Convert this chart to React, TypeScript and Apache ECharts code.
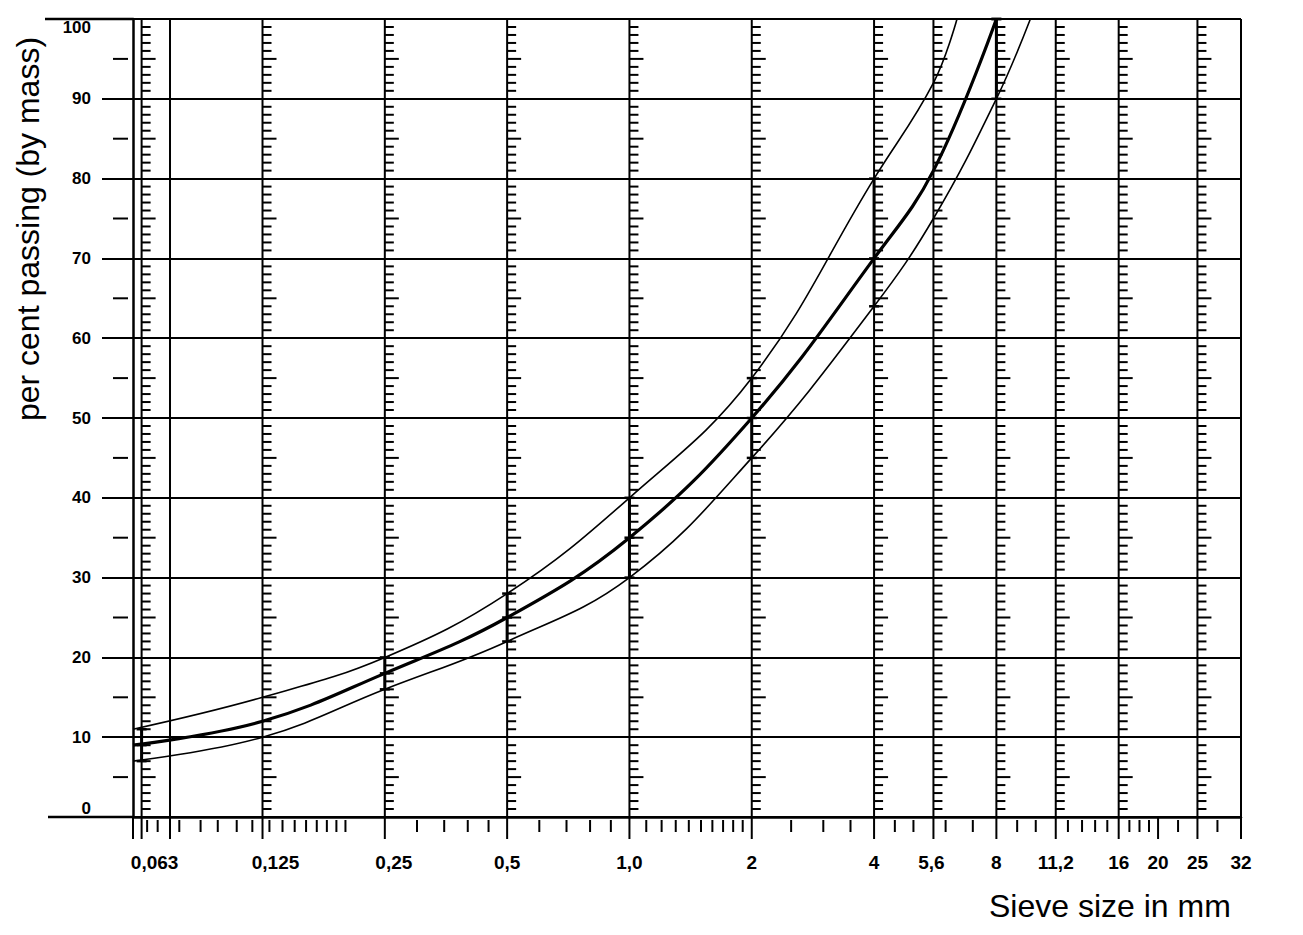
import { useEffect, useRef } from "react";
import * as echarts from "echarts";

// ---- data ----
const xLabelTexts = ["0,063", "0,125", "0,25", "0,5", "1,0", "2", "4", "5,6", "8", "11,2", "16", "20", "25", "32"];
const xLabelSizes = [0.063, 0.125, 0.25, 0.5, 1, 2, 4, 5.6, 8, 11.2, 16, 20, 25, 32];
const rulerSizes = [0.063, 0.125, 0.25, 0.5, 1, 2, 4, 5.6, 8, 11.2, 16, 25];
const plainLineSizes = [0.074, 32];
const majorTickSizes = [0.06, 0.063, 0.074, 0.125, 0.25, 0.5, 1, 2, 4, 5.6, 8, 11.2, 16, 20, 25, 32];
const minorTickSizes = [
  0.065, 0.069, 0.078, 0.088, 0.097, 0.108, 0.118,
  0.13, 0.14, 0.15, 0.16, 0.17, 0.18, 0.19, 0.2,
  0.3, 0.35, 0.4, 0.45,
  0.6, 0.7, 0.8, 0.9,
  1.1, 1.2, 1.3, 1.4, 1.5, 1.6, 1.7, 1.8, 1.9,
  2.5, 3, 3.5,
  4.5, 5, 6, 7,
  9, 10, 12, 13, 14, 15,
  17, 18, 19, 22.4, 28,
];
const yHalfTicks = [5, 15, 25, 35, 45, 55, 65, 75, 85, 95];

const upperLimit = [
  [0.06, 11], [0.125, 15], [0.25, 20], [0.5, 28], [1, 40], [2, 55], [4, 80], [5.6, 92], [6.4, 100],
];
const gradingCurve = [
  [0.06, 9], [0.125, 12], [0.25, 18], [0.5, 25], [1, 35], [2, 50], [4, 70], [5.6, 81], [8, 100],
];
const lowerLimit = [
  [0.06, 7], [0.125, 10], [0.25, 16], [0.5, 22], [1, 30], [2, 45], [4, 64], [5.6, 75], [8, 90], [9.7, 100],
];
// sieve, lower, middle, upper
const rangeBars = [
  [0.063, 7, 9, 11],
  [0.25, 16, 18, 20],
  [0.5, 22, 25, 28],
  [1, 30, 35, 40],
  [2, 45, 50, 55],
  [4, 64, 70, 80],
  [8, 90, 100, 100],
];

const X_MIN = 0.06;
const X_MAX = 32;
const LABEL_FONT = 'bold 19px "Liberation Sans", Arial, sans-serif';
const labelShift: Record<string, number> = { "0,063": 13, "0,125": 13, "0,25": 9, "5,6": -2 };

function ln(x1: number, y1: number, x2: number, y2: number, w = 2) {
  return { type: "line", shape: { x1, y1, x2, y2 }, style: { stroke: "#000", lineWidth: w } };
}

export default function App() {
  const ref = useRef<HTMLDivElement>(null);
  useEffect(() => {
    if (!ref.current) return;
    const chart = echarts.init(ref.current, null, { renderer: "svg" });
    const curveStyle = { smooth: 0.4, showSymbol: false, symbol: "none" };
    const option: any = {
      animation: false,
      backgroundColor: "#fff",
      grid: { left: 133, right: 62, top: 19, bottom: 118 },
      xAxis: {
        type: "log",
        logBase: 2,
        min: X_MIN,
        max: X_MAX,
        axisLine: { show: true, lineStyle: { color: "#000", width: 2.5 } },
        axisTick: { show: false },
        axisLabel: { show: false },
        splitLine: { show: false },
        minorTick: { show: false },
      },
      yAxis: {
        type: "value",
        min: 0,
        max: 100,
        interval: 10,
        axisLine: { show: true, lineStyle: { color: "#000", width: 2.5 } },
        axisTick: { show: true, length: 31, lineStyle: { color: "#000", width: 2 } },
        axisLabel: {
          show: true,
          margin: 42,
          color: "#000",
          fontSize: 17,
          fontWeight: "bold",
          fontFamily: '"Liberation Sans", Arial, sans-serif',
          verticalAlignMinLabel: "bottom",
          verticalAlignMaxLabel: "top",
        },
        splitLine: { show: true, lineStyle: { color: "#000", width: 2 } },
      },
      graphic: [
        {
          type: "text",
          x: 28,
          y: 229,
          rotation: Math.PI / 2,
          style: {
            text: "per cent passing (by mass)",
            font: '32px "Liberation Sans", Arial, sans-serif',
            fill: "#000",
            align: "center",
            verticalAlign: "middle",
          },
        },
        {
          type: "text",
          x: 989,
          y: 906,
          style: {
            text: "Sieve size in mm",
            font: '32px "Liberation Sans", Arial, sans-serif',
            fill: "#000",
            align: "left",
            verticalAlign: "middle",
          },
        },
      ],
      series: [
        // ruler lines with 1 % marks
        {
          type: "custom",
          silent: true,
          data: rulerSizes.map((s) => [s, 0]),
          renderItem: (_p: any, api: any) => {
            const x = api.value(0);
            const t = api.coord([x, 100]);
            const b = api.coord([x, 0]);
            const children: any[] = [ln(t[0], t[1], b[0], b[1], 2)];
            for (let p = 1; p < 100; p++) {
              if (p % 10 === 0) continue;
              const c = api.coord([x, p]);
              const len = p % 5 === 0 ? 14 : 9;
              children.push(ln(c[0], c[1], c[0] + len, c[1], 2));
            }
            return { type: "group", children };
          },
        },
        // plain vertical lines
        {
          type: "custom",
          silent: true,
          data: plainLineSizes.map((s) => [s, 0]),
          renderItem: (_p: any, api: any) => {
            const x = api.value(0);
            const t = api.coord([x, 100]);
            const b = api.coord([x, 0]);
            return ln(t[0], t[1], b[0], b[1], 2);
          },
        },
        // bottom / top border extensions and left half ticks
        {
          type: "custom",
          silent: true,
          data: [[X_MIN, 0]],
          renderItem: (_p: any, api: any) => {
            const b = api.coord([X_MIN, 0]);
            const t = api.coord([X_MIN, 100]);
            const children: any[] = [ln(b[0] - 85, b[1], b[0], b[1], 2.5), ln(t[0] - 88, t[1], t[0], t[1], 2.5)];
            yHalfTicks.forEach((v) => {
              const c = api.coord([X_MIN, v]);
              children.push(ln(c[0] - 20, c[1], c[0] - 5, c[1], 2));
            });
            return { type: "group", children };
          },
        },
        // x axis major ticks
        {
          type: "custom",
          silent: true,
          data: majorTickSizes.map((s) => [s, 0]),
          renderItem: (_p: any, api: any) => {
            const c = api.coord([api.value(0), 0]);
            return ln(c[0], c[1], c[0], c[1] + 22, 2);
          },
        },
        // x axis minor ticks
        {
          type: "custom",
          silent: true,
          data: minorTickSizes.map((s) => [s, 0]),
          renderItem: (_p: any, api: any) => {
            const c = api.coord([api.value(0), 0]);
            return ln(c[0], c[1] + 3, c[0], c[1] + 15, 2);
          },
        },
        // x axis labels
        {
          type: "custom",
          silent: true,
          data: xLabelSizes.map((s, i) => [s, 0, i]),
          renderItem: (_p: any, api: any) => {
            const c = api.coord([api.value(0), 0]);
            const txt = xLabelTexts[api.value(2)];
            return {
              type: "text",
              x: c[0] + (labelShift[txt] || 0),
              y: c[1] + 45,
              style: { text: txt, font: LABEL_FONT, fill: "#000", align: "center", verticalAlign: "middle" },
            };
          },
        },
        // limit curves and grading curve
        {
          name: "upper limit",
          type: "line",
          data: upperLimit,
          ...curveStyle,
          lineStyle: { color: "#000", width: 1.6 },
        },
        {
          name: "lower limit",
          type: "line",
          data: lowerLimit,
          ...curveStyle,
          lineStyle: { color: "#000", width: 1.6 },
        },
        {
          name: "grading curve",
          type: "line",
          data: gradingCurve,
          ...curveStyle,
          lineStyle: { color: "#000", width: 3.2 },
        },
        // range bars
        {
          type: "custom",
          silent: true,
          data: rangeBars,
          encode: { x: 0, y: [1, 2, 3] },
          renderItem: (_p: any, api: any) => {
            const x = api.value(0);
            const lo = api.coord([x, api.value(1)]);
            const mi = api.coord([x, api.value(2)]);
            const hi = api.coord([x, api.value(3)]);
            return {
              type: "group",
              children: [
                ln(lo[0], lo[1], hi[0], hi[1], 3),
                ln(lo[0] - 5, lo[1], lo[0] + 5, lo[1], 2.5),
                ln(mi[0] - 5, mi[1], mi[0] + 5, mi[1], 2.5),
                ln(hi[0] - 5, hi[1], hi[0] + 5, hi[1], 2.5),
              ],
            };
          },
        },
      ],
    };
    chart.setOption(option);
    return () => chart.dispose();
  }, []);
  return (
    <div
      ref={ref}
      style={{ position: "fixed", left: 0, top: 0, width: 1303, height: 935, background: "#fff" }}
    />
  );
}
